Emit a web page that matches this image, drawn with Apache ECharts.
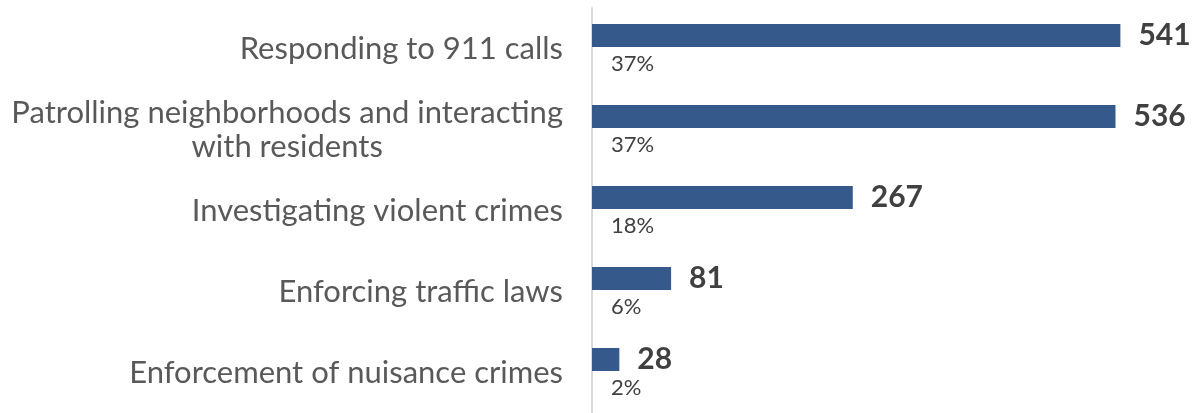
<!DOCTYPE html>
<html>
<head>
<meta charset="utf-8">
<script src="https://cdn.jsdelivr.net/npm/echarts@6/dist/echarts.min.js"></script>
<style>
  html, body { margin: 0; padding: 0; background: #ffffff; }
  #chart { width: 1194px; height: 413px; }
</style>
</head>
<body>
<div id="chart"></div>
<script>
// Survey: which police activities respondents ranked as most important
const categories = [
  'Responding to 911 calls',
  'Patrolling neighborhoods and interacting\nwith residents',
  'Investigating violent crimes',
  'Enforcing traffic laws',
  'Enforcement of nuisance crimes'
];
const counts = [541, 536, 267, 81, 28];
const shares = ['37%', '37%', '18%', '6%', '2%'];

const FONT = 'Lato, "Open Sans", sans-serif';
const chart = echarts.init(document.getElementById('chart'), null, { renderer: 'canvas' });

chart.setOption({
  animation: false,
  backgroundColor: '#ffffff',
  grid: { left: 592, width: 586, top: 8, height: 410, containLabel: false },
  xAxis: {
    type: 'value', min: 0, max: 600,
    show: false
  },
  yAxis: {
    type: 'category',
    inverse: true,
    data: categories,
    axisTick: { show: false },
    axisLine: { show: true, lineStyle: { color: '#d9d9d9', width: 2 } },
    axisLabel: {
      margin: 29,
      fontFamily: FONT,
      fontSize: 31,
      color: '#595959',
      // each line of a wrapped label is centred within the label block
      formatter: function (v) {
        return v.split('\n').map(function (s) { return '{c|' + s + '}'; }).join('\n');
      },
      rich: {
        c: { align: 'center', fontFamily: FONT, fontSize: 31, color: '#595959', lineHeight: 34 }
      }
    }
  },
  series: [
    {
      name: 'Count',
      type: 'bar',
      data: counts,
      barWidth: 23,
      barGap: '0%',
      itemStyle: { color: '#34598a' },
      label: {
        show: true,
        position: 'right',
        distance: 18,
        fontFamily: FONT,
        fontWeight: 'bold',
        fontSize: 30,
        color: '#404040'
      },
      z: 3
    },
    {
      // invisible companion bar that carries the share label under each bar
      name: 'Share',
      type: 'bar',
      data: counts,
      barWidth: 26,
      itemStyle: { color: 'transparent' },
      silent: true,
      label: {
        show: true,
        position: 'insideLeft',
        distance: 19,
        offset: [0, 3.5],
        fontFamily: FONT,
        fontSize: 22,
        color: '#404040',
        formatter: function (p) { return shares[p.dataIndex]; }
      },
      z: 3
    }
  ]
});
</script>
</body>
</html>
